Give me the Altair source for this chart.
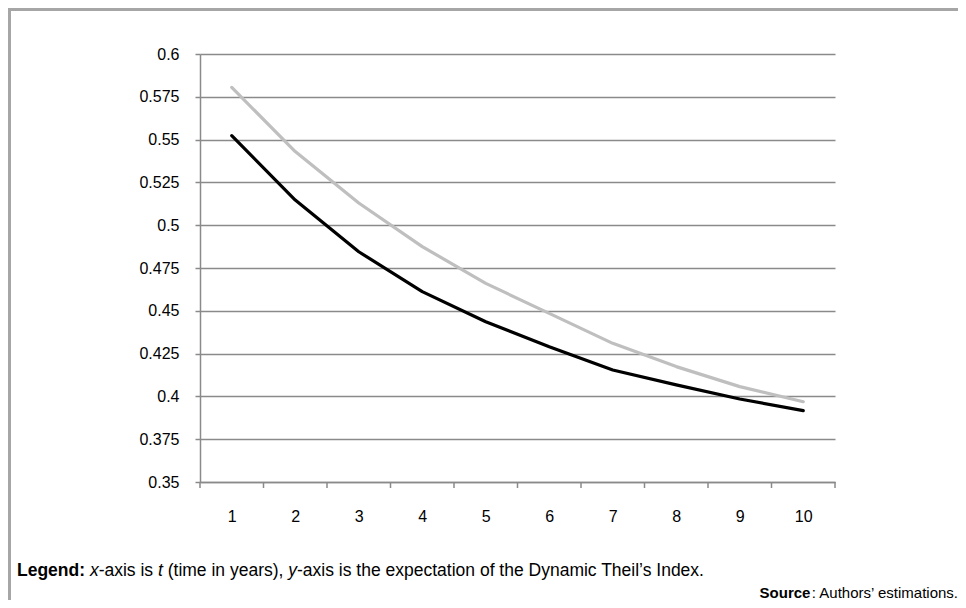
import altair as alt
import pandas as pd

# ---- data ----
t_years = [1, 2, 3, 4, 5, 6, 7, 8, 9, 10]
series_gray = [0.5805, 0.543, 0.513, 0.4875, 0.466, 0.4485, 0.431, 0.4174, 0.4057, 0.3969]
series_black = [0.5523, 0.5147, 0.4845, 0.4612, 0.4436, 0.429, 0.4154, 0.4067, 0.3985, 0.3917]
y_ticks = [0.35, 0.375, 0.4, 0.425, 0.45, 0.475, 0.5, 0.525, 0.55, 0.575, 0.6]
x_boundaries = [0.5, 1.5, 2.5, 3.5, 4.5, 5.5, 6.5, 7.5, 8.5, 9.5, 10.5]

W, H = 635, 428
PAD_L, PAD_T = 192, 46
FONT = "Liberation Sans"
GRID = "#8a8a8a"

# Arial / Liberation Sans advance widths (per 1000 em)
REG = {' ': 278, '(': 333, ')': 333, ',': 278, '-': 333, '.': 278, ':': 278, '’': 222,
       'A': 667, 'D': 722, 'I': 278, 'S': 667, 'T': 611,
       'a': 556, 'b': 556, 'c': 500, 'd': 556, 'e': 556, 'f': 278, 'g': 556, 'h': 556,
       'i': 222, 'j': 222, 'k': 500, 'l': 222, 'm': 833, 'n': 556, 'o': 556, 'p': 556,
       'q': 556, 'r': 333, 's': 500, 't': 278, 'u': 556, 'v': 500, 'w': 722, 'x': 500,
       'y': 500, 'z': 500}
BOLD = {'L': 611, 'e': 556, 'g': 611, 'n': 611, 'd': 611, ':': 333, 'S': 667, 'o': 611,
        'u': 611, 'r': 389, 'c': 556}


def tw(s, size, bold=False):
    tab = BOLD if bold else REG
    return sum(tab.get(ch, 556) for ch in s) * size / 1000.0


df = pd.DataFrame({
    "t": t_years * 2,
    "v": series_gray + series_black,
    "s": ["gray"] * 10 + ["black"] * 10,
})

x_scale = alt.Scale(domain=[0.5, 10.5], nice=False, zero=False)
y_scale = alt.Scale(domain=[0.35, 0.6], nice=False, zero=False)

base = alt.Chart(df)

lines = base.mark_line(strokeWidth=3.2, strokeJoin="round", strokeCap="round").encode(
    x=alt.X("t:Q", scale=x_scale,
            axis=alt.Axis(values=t_years, title=None, grid=False, ticks=False,
                          labelPadding=26, labelFontSize=16, labelFont=FONT,
                          labelColor="#000", domainColor=GRID, domainWidth=1.5,
                          format="d")),
    y=alt.Y("v:Q", scale=y_scale,
            axis=alt.Axis(values=y_ticks, title=None, grid=True, gridColor=GRID,
                          gridWidth=1.5, tickSize=5, tickColor=GRID, tickWidth=1.5,
                          labelPadding=16, labelFontSize=16, labelFont=FONT,
                          labelColor="#000", domainColor=GRID, domainWidth=1.5,
                          format=".3~f")),
    color=alt.Color("s:N", scale=alt.Scale(domain=["gray", "black"],
                                           range=["#bfbfbf", "#000000"]), legend=None),
    order=alt.Order("s:N", sort="descending"),
)

ticks_df = pd.DataFrame({"b": x_boundaries})
xticks = alt.Chart(ticks_df).mark_rule(color=GRID, strokeWidth=1.5).encode(
    x=alt.X("b:Q", scale=x_scale),
    y=alt.value(H),
    y2=alt.value(H + 6),
)

# ---- caption lines ----
FS = 17.5
leg_y = 517
x0 = 17 - 200
parts = [
    ("Legend:", "bold", "normal", tw("Legend:", FS, True) + tw(" ", FS)),
    ("x", "normal", "italic", tw("x", FS)),
    ("-axis is", "normal", "normal", tw("-axis is ", FS)),
    ("t", "normal", "italic", tw("t ", FS)),
    ("(time in years),", "normal", "normal", tw("(time in years), ", FS)),
    ("y", "normal", "italic", tw("y", FS)),
    ("-axis is the expectation of the Dynamic Theil’s Index.", "normal", "normal", 0),
]
cap_layers = []
cx = x0
for txt, fw, fst, adv in parts:
    cap_layers.append(
        alt.Chart(pd.DataFrame({"k": [txt]})).mark_text(
            text=txt, align="left", baseline="middle", font=FONT, fontSize=FS,
            fontWeight=fw, fontStyle=fst, color="#000"
        ).encode(x=alt.value(cx), y=alt.value(leg_y))
    )
    cx += adv

FS2 = 15
src_y = 539
src_right = 958 - 200
rest = ": Authors’ estimations."
rest_w = tw(rest, FS2)
cap_layers.append(
    alt.Chart(pd.DataFrame({"k": [rest]})).mark_text(
        text=rest, align="right", baseline="middle", font=FONT, fontSize=FS2, color="#000"
    ).encode(x=alt.value(src_right), y=alt.value(src_y))
)
cap_layers.append(
    alt.Chart(pd.DataFrame({"k": ["Source"]})).mark_text(
        text="Source", align="right", baseline="middle", font=FONT, fontSize=FS2,
        fontWeight="bold", color="#000"
    ).encode(x=alt.value(src_right - rest_w), y=alt.value(src_y))
)

# frame (top and left edges)
frame_top = alt.Chart(pd.DataFrame({"k": [0]})).mark_rule(color="#a6a6a6", strokeWidth=3).encode(
    x=alt.value(-PAD_L), x2=alt.value(966), y=alt.value(-PAD_T + 1.5))
frame_left = alt.Chart(pd.DataFrame({"k": [0]})).mark_rule(color="#a6a6a6", strokeWidth=3).encode(
    x=alt.value(-PAD_L + 1.5), y=alt.value(-PAD_T), y2=alt.value(620))

chart = alt.layer(xticks, lines, *cap_layers, frame_top, frame_left).properties(
    width=W, height=H,
    autosize=alt.AutoSizeParams(type="none"),
    padding={"left": PAD_L, "top": PAD_T, "right": 950 - PAD_L - W, "bottom": 592 - PAD_T - H},
    background="white",
).configure_view(stroke=None)

chart.save("out.html", embed_options={"renderer": "svg", "actions": False})
